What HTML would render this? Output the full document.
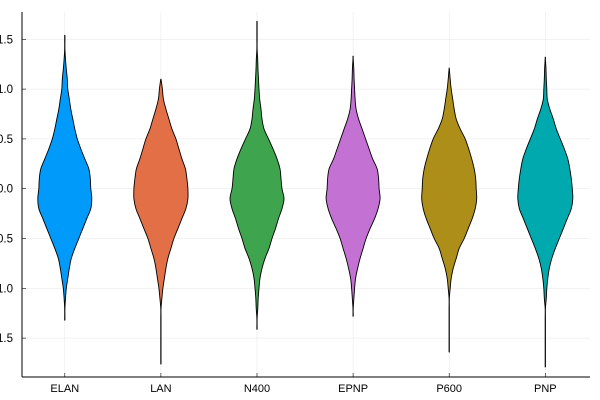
<!DOCTYPE html>
<html><head><meta charset="utf-8"><style>
body{margin:0;background:#fff}
svg{display:block;font-family:"Liberation Sans",sans-serif}
</style></head><body>
<svg id="chart" width="600" height="400"></svg>
<script>
const categories=["ELAN","LAN","N400","EPNP","P600","PNP"];
const colors=["#009AFA","#E36F47","#3EA44E","#C371D2","#AC8E18","#00A9AD"];
const yTicks=[1.5,1.0,0.5,0.0,-0.5,-1.0,-1.5];
const yTickLabels=["1.5","1.0","0.5","0.0","-0.5","-1.0","-1.5"];
// density levels from 1.7 down to -1.8, step 0.1
const levels=[1.7,1.6,1.5,1.4,1.3,1.2,1.1,1.0,0.9,0.8,0.7,0.6,0.5,0.4,0.3,0.2,0.1,0.0,-0.1,-0.2,-0.3,-0.4,-0.5,-0.6,-0.7,-0.8,-0.9,-1.0,-1.1,-1.2,-1.3,-1.4,-1.5,-1.6,-1.7,-1.8];
const maxVals=[1.54,1.10,1.68,1.33,1.21,1.32];
const minVals=[-1.32,-1.76,-1.41,-1.28,-1.64,-1.79];
const densELAN=[0,0,0.5,0.5,0.7,1.5,2.5,3,4.5,6,8,10,12.5,16,20,24,25.5,26,27,26,22,18,14,10,6.5,4.5,3,1.5,0.7,0.5,0.5,0,0,0,0,0];
const densLAN=[0,0,0,0,0,0,0.5,1.5,2.5,5,8,11,15,18,21,24.5,26,27,27,25,21,17,13,10,7,5,3.5,2,1,0.5,0.5,0.5,0.5,0.5,0.5,0];
const densN400=[0,0.5,0.5,0.5,0.7,1,1.5,2,2.7,4,5,7,11.5,16,20,23,24,25,27,25,21.5,18.5,15,12,8,5,3,2,1.2,0.8,0.5,0.5,0,0,0,0];
const densEPNP=[0,0,0,0,0.5,0.7,1,1.5,2,3,5.5,9,12.5,16,19.5,24,25.5,26,27,25,21.5,17,13,10,7,4.5,2.5,1.5,0.8,0.5,0,0,0,0,0,0];
const densP600=[0,0,0,0,0,0.5,1,2,3.5,5,7,11,16,19.5,22.5,25,26.5,27,27.5,26,23,19,15,10,7,4,2,1,0.5,0.5,0.5,0.5,0.5,0.5,0,0];
const densPNP=[0,0,0,0,0.5,0.7,1,1.5,2,4.5,8,11,15,19,22.5,24.5,26,27,27.5,26,22,18,14,10,6.5,4,2.5,1.5,1,0.5,0.5,0.5,0.5,0.5,0.5,0];
const densities=[densELAN,densLAN,densN400,densEPNP,densP600,densPNP];

const NS="http://www.w3.org/2000/svg";
const svg=document.getElementById("chart");
const X0=22,X1=590,Y0=12,Y1=377;
const yScale=v=>188.7-99.6*v;
const xScale=i=>64.8+96.1*i;
const wScale=d=>d<=0.5?0.15:d;
function mk(tag,attrs,parent){const e=document.createElementNS(NS,tag);for(const k in attrs)e.setAttribute(k,attrs[k]);(parent||svg).appendChild(e);return e;}

yTicks.forEach((t,i)=>{
  const g=mk("line",{x1:X0,x2:X1,y1:yScale(t),y2:yScale(t),stroke:"#000","stroke-opacity":0.1,"stroke-width":0.5});
  
  
});
categories.forEach((c,i)=>{
  const g=mk("line",{x1:xScale(i),x2:xScale(i),y1:Y0,y2:Y1,stroke:"#000","stroke-opacity":0.1,"stroke-width":0.5});
  
  
});

function smoothPath(pts){
  let d="M"+pts[0][0].toFixed(2)+","+pts[0][1].toFixed(2);
  for(let i=0;i<pts.length-1;i++){
    const p0=pts[Math.max(0,i-1)],p1=pts[i],p2=pts[i+1],p3=pts[Math.min(pts.length-1,i+2)];
    const c1=[p1[0]+(p2[0]-p0[0])/6,p1[1]+(p2[1]-p0[1])/6];
    const c2=[p2[0]-(p3[0]-p1[0])/6,p2[1]-(p3[1]-p1[1])/6];
    d+="C"+c1[0].toFixed(2)+","+c1[1].toFixed(2)+" "+c2[0].toFixed(2)+","+c2[1].toFixed(2)+" "+p2[0].toFixed(2)+","+p2[1].toFixed(2);
  }
  return d;
}

categories.forEach((c,i)=>{
  const cx=xScale(i);
  const prof=[[maxVals[i],0.5]];
  levels.forEach((v,k)=>{if(v<maxVals[i]&&v>minVals[i])prof.push([v,Math.max(0.5,densities[i][k])]);});
  prof.push([minVals[i],0.5]);
  const right=prof.map(p=>[cx+wScale(p[1]),yScale(p[0])]);
  const left=prof.slice().reverse().map(p=>[cx-wScale(p[1]),yScale(p[0])]);
  const d=smoothPath(right)+" L"+smoothPath(left).slice(1)+"Z";
  const p=mk("path",{d:d,fill:colors[i],stroke:"#000","stroke-width":0.9,"stroke-linejoin":"round"});
  
  
});

const ax=mk("line",{x1:X0,x2:X0,y1:Y0,y2:Y1,stroke:"#000","stroke-width":1});


const bx=mk("line",{x1:X0,x2:X1,y1:Y1,y2:Y1,stroke:"#000","stroke-width":1});



yTicks.forEach((t,i)=>{
  const tk=mk("line",{x1:X0,x2:X0+4,y1:yScale(t),y2:yScale(t),stroke:"#000","stroke-width":0.6});
  
  
  const tx=mk("text",{x:13,y:yScale(t)+4,"text-anchor":"end","font-size":11.5,fill:"#000"});
  tx.textContent=yTickLabels[i];
  
  
});
categories.forEach((c,i)=>{
  const tk=mk("line",{x1:xScale(i),x2:xScale(i),y1:Y1,y2:Y1-4,stroke:"#000","stroke-width":0.6});
  
  
  const tx=mk("text",{x:xScale(i),y:392,"text-anchor":"middle","font-size":11,fill:"#000"});
  tx.textContent=c;
  
  
});
</script>
</body></html>
